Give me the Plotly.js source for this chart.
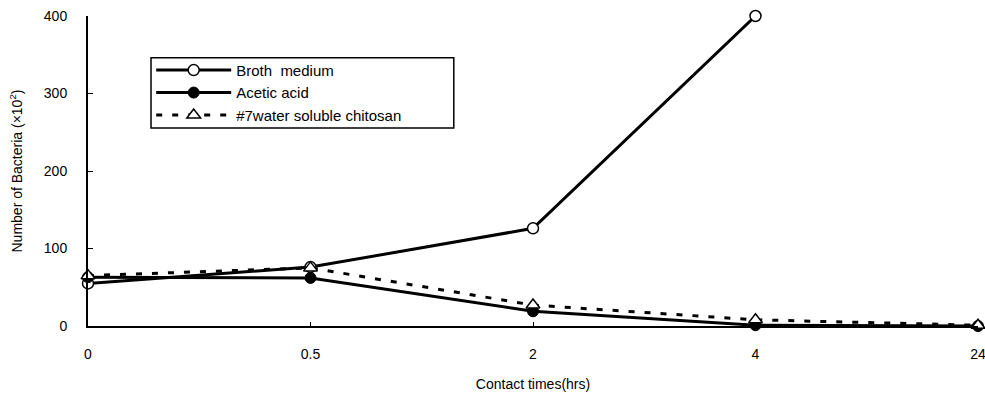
<!DOCTYPE html>
<html>
<head>
<meta charset="utf-8">
<script src="https://cdn.plot.ly/plotly-3.0.1.min.js"></script>
<style>html,body{margin:0;padding:0;background:#fff;}#chart{width:985px;height:401px;}</style>
</head>
<body>
<div id="chart"></div>
<script>
const times = ["0", "0.5", "2", "4", "24"];
const broth = [55, 76, 126, 400, null];
const acetic = [63, 62, 19, 1, 0];
const chitosan = [65, 75, 27, 8, 1];
const names = ["Broth  medium", "Acetic acid", "#7water soluble chitosan"];

const traces = [
  {x: times, y: broth, name: names[0], mode: "lines+markers", cliponaxis: false,
   line: {color: "#000", width: 3},
   marker: {symbol: "circle", size: 11, color: "#fff", line: {color: "#000", width: 1.5}}},
  {x: times, y: acetic, name: names[1], mode: "lines+markers", cliponaxis: false,
   line: {color: "#000", width: 3},
   marker: {symbol: "circle", size: 11, color: "#000", line: {color: "#000", width: 1}}},
  {x: times, y: chitosan, name: names[2], mode: "lines+markers", cliponaxis: false,
   line: {color: "#000", width: 3, dash: "6px,10px"},
   marker: {symbol: "triangle-up", size: 12, color: "#fff", line: {color: "#000", width: 1.5}}}
];

const font = {family: "Liberation Sans, Arial, sans-serif", color: "#000", size: 14};
const layout = {
  width: 985, height: 401,
  margin: {l: 88, r: 7, t: 16, b: 75},
  paper_bgcolor: "#fff", plot_bgcolor: "#fff",
  font: font,
  showlegend: true,
  legend: {x: 0.071, y: 0.878, xanchor: "left", yanchor: "top",
           borderwidth: 0, bgcolor: "rgba(0,0,0,0)",
           itemwidth: 75,
           font: {family: font.family, size: 15, color: "#000"}},
  shapes: [{type: "rect", xref: "paper", yref: "paper", layer: "above",
            x0: 0.0708, x1: 0.411, y0: 0.639, y1: 0.865,
            fillcolor: "#fff", line: {color: "#000", width: 1.5}}],
  xaxis: {type: "category", range: [0, 4], showgrid: false, zeroline: false,
          showline: true, linecolor: "#000", linewidth: 2,
          ticks: "inside", ticklen: 4, tickcolor: "#000",
          ticklabelstandoff: 14, tickfont: {size: 14},
          title: {text: "Contact times(hrs)", font: {size: 14}, standoff: 18}},
  yaxis: {range: [0, 400], dtick: 100, showgrid: false, zeroline: false,
          showline: true, linecolor: "#000", linewidth: 2,
          ticks: "inside", ticklen: 5, tickcolor: "#000",
          ticklabelstandoff: 16, tickfont: {size: 14},
          title: {text: "Number of Bacteria (×10<sup>2</sup>)", font: {size: 14}, standoff: 18}}
};
Plotly.newPlot("chart", traces, layout, {displayModeBar: false, staticPlot: true});
</script>
</body>
</html>
